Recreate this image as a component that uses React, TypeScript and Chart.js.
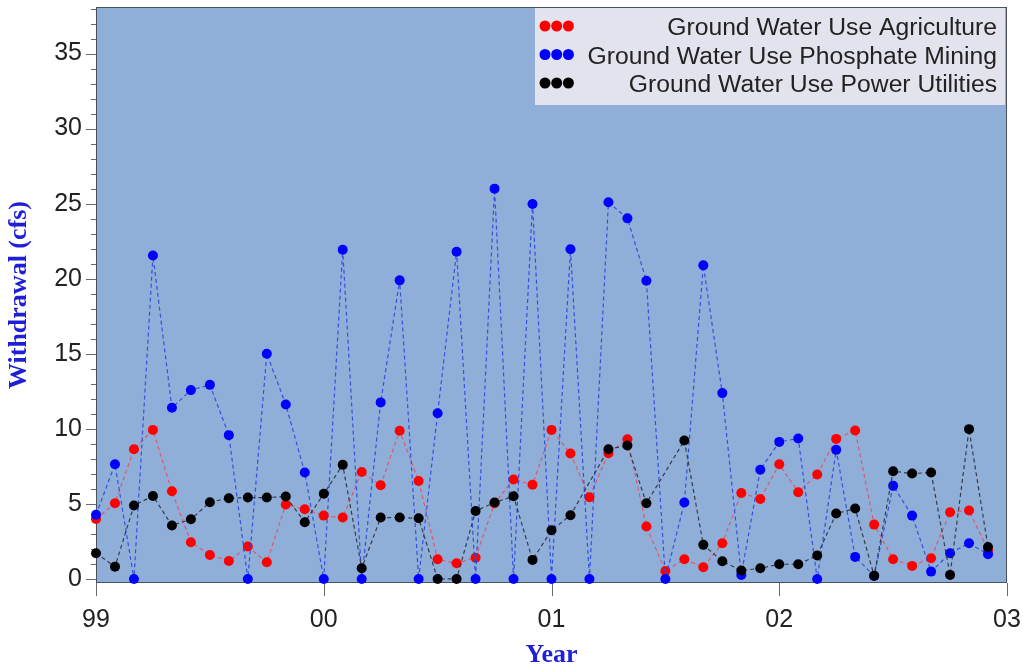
import React, { useEffect, useRef } from "react";
import { Chart, registerables } from "chart.js";

Chart.register(...registerables);

// Two-digit year labels on the monthly axis (one label every 12 months)
const yearLabels = ["99", "00", "01", "02", "03"];

// Monthly ground water withdrawal, cfs, Jan 1999 .. Dec 2002
const agriculture = [
  4.0, 5.04, 8.64, 9.93, 5.84, 2.44, 1.6, 1.2, 2.16, 1.11, 4.96, 4.64,
  4.22, 4.09, 7.13, 6.24, 9.87, 6.53, 1.31, 1.04, 1.42, 5.04, 6.62, 6.27,
  9.93, 8.36, 5.44, 8.38, 9.31, 3.49, 0.53, 1.31, 0.78, 2.38, 5.73, 5.33,
  7.64, 5.78, 6.96, 9.33, 9.89, 3.62, 1.31, 0.87, 1.38, 4.44, 4.56, 1.9,
];

const phosphateMining = [
  4.27, 7.64, 0, 21.55, 11.4, 12.58, 12.93, 9.58, 0, 15.0, 11.62, 7.09,
  0, 21.93, 0, 11.76, 19.89, 0, 11.04, 21.8, 0, 26.0, 0, 24.98,
  0, 21.96, 0, 25.09, 24.02, 19.87, 0, 5.09, 20.89, 12.38, 0.27, 7.27,
  9.13, 9.36, 0, 8.6, 1.47, 0.2, 6.2, 4.22, 0.49, 1.71, 2.38, 1.64,
];

const powerUtilities: (number | null)[] = [
  1.71, 0.82, 4.89, 5.53, 3.56, 3.98, 5.11, 5.38, 5.42, 5.42, 5.49, 3.78,
  5.67, 7.6, 0.71, 4.09, 4.09, 4.04, 0, 0, 4.53, 5.09, 5.51, 1.27,
  3.24, 4.24, null, 8.64, 8.89, 5.04, null, 9.22, 2.27, 1.18, 0.56, 0.71,
  0.98, 0.98, 1.56, 4.36, 4.69, 0.22, 7.18, 7.02, 7.09, 0.27, 9.98, 2.13,
];

const seriesNames = [
  "Ground Water Use Agriculture",
  "Ground Water Use Phosphate Mining",
  "Ground Water Use Power Utilities",
];
const markerColors = ["#ff0000", "#0000ff", "#000000"];
const lineColors = ["rgba(228,80,100,0.9)", "rgba(40,70,225,0.9)", "rgba(45,45,60,0.9)"];

const SANS = '"Liberation Sans", Arial, Helvetica, sans-serif';
const SERIF = '"Liberation Serif", "Times New Roman", Times, serif';
const TITLE_BLUE = "#1f1fd6";

const toPoints = (values: (number | null)[]) => values.map((y, i) => ({ x: i, y }));

// Keep the plot box exactly where the axes put it (no extra room for end labels)
const fixScale = (size: { width?: number; height?: number }) => (s: any) => {
  if (size.width !== undefined) s.width = size.width;
  if (size.height !== undefined) s.height = size.height;
  s.paddingTop = 0;
  s.paddingBottom = 0;
  s.paddingLeft = 0;
  s.paddingRight = 0;
};

// Plot background, frame and the outward tick marks
const plotFrame = {
  id: "plotFrame",
  beforeDraw(chart: any) {
    const { ctx, chartArea: a } = chart;
    ctx.save();
    ctx.fillStyle = "#ffffff";
    ctx.fillRect(0, 0, chart.width, chart.height);
    ctx.fillStyle = "#8fafd9";
    ctx.fillRect(a.left, a.top, a.right - a.left, a.bottom - a.top);
    ctx.restore();
  },
  beforeDatasetsDraw(chart: any) {
    const { ctx, chartArea: a, scales } = chart;
    ctx.save();
    ctx.lineWidth = 1;
    ctx.strokeStyle = "#4a5262";
    ctx.strokeRect(a.left + 0.5, a.top + 0.5, a.right - a.left - 1, a.bottom - a.top - 1);

    ctx.strokeStyle = "#6a6a6a";
    const y = scales.y;
    for (let v = 0; v <= Math.floor(y.max); v++) {
      const py = Math.round(y.getPixelForValue(v)) + 0.5;
      const len = v % 5 === 0 ? 10 : 5;
      ctx.beginPath();
      ctx.moveTo(a.left - len, py);
      ctx.lineTo(a.left, py);
      ctx.stroke();
    }
    const x = scales.x;
    for (let m = x.min; m <= x.max; m += 12) {
      const px = Math.round(x.getPixelForValue(m)) + 0.5;
      ctx.beginPath();
      ctx.moveTo(px, a.bottom);
      ctx.lineTo(px, a.bottom + 13);
      ctx.stroke();
    }
    ctx.restore();
  },
};

// Legend box in the upper right corner of the plot
const cornerLegend = {
  id: "cornerLegend",
  afterDraw(chart: any) {
    const { ctx, chartArea: a } = chart;
    const right = a.right - 2;
    const top = a.top + 1;
    const width = 470;
    const height = 97;
    const left = right - width;
    ctx.save();
    ctx.fillStyle = "#e3e3ee";
    ctx.fillRect(left, top, width, height);
    ctx.font = `24.7px ${SANS}`;
    ctx.textAlign = "right";
    ctx.textBaseline = "alphabetic";
    chart.data.datasets.forEach((ds: any, i: number) => {
      const cy = top + 18 + i * 28.5;
      ctx.fillStyle = ds.pointBackgroundColor;
      for (let k = 0; k < 3; k++) {
        ctx.beginPath();
        ctx.arc(left + 10 + k * 11.7, cy, 5.5, 0, Math.PI * 2);
        ctx.fill();
      }
      ctx.fillStyle = "#222222";
      ctx.fillText(ds.label, right - 8, cy + 9);
    });
    ctx.restore();
  },
};

export default function App() {
  const canvasRef = useRef<HTMLCanvasElement | null>(null);

  useEffect(() => {
    if (!canvasRef.current) return;
    const series = [agriculture, phosphateMining, powerUtilities];
    const chart = new Chart(canvasRef.current, {
      type: "line",
      data: {
        datasets: series.map((values, i) => ({
          label: seriesNames[i],
          data: toPoints(values),
          borderColor: lineColors[i],
          borderWidth: 1.2,
          borderDash: [4, 3],
          pointRadius: 5,
          pointHoverRadius: 5,
          pointBackgroundColor: markerColors[i],
          pointBorderColor: markerColors[i],
          pointBorderWidth: 0,
          tension: 0,
          spanGaps: true,
          clip: false as any,
          order: 3 - i,
        })),
      },
      options: {
        animation: false,
        responsive: false,
        devicePixelRatio: 1,
        layout: { padding: { left: 0, right: 16, top: 7, bottom: 0 } },
        plugins: {
          legend: { display: false },
          tooltip: { enabled: false },
        },
        scales: {
          x: {
            type: "linear",
            min: 0,
            max: 48,
            grid: { display: false, drawTicks: false },
            border: { display: false },
            ticks: {
              stepSize: 12,
              autoSkip: false,
              maxRotation: 0,
              padding: 22,
              color: "#222222",
              font: { family: SANS, size: 25 },
              callback: (v: any) => yearLabels[Math.round(Number(v) / 12)] ?? "",
            },
            title: {
              display: true,
              text: "Year",
              color: TITLE_BLUE,
              font: { family: SERIF, size: 26, weight: "bold" },
              padding: { top: 0, bottom: 0 },
            },
            afterFit: fixScale({ height: 88 }),
          },
          y: {
            type: "linear",
            min: -0.27,
            max: 38.1,
            grid: { display: false, drawTicks: false },
            border: { display: false },
            ticks: {
              stepSize: 5,
              includeBounds: false,
              padding: 14,
              color: "#222222",
              font: { family: SANS, size: 25 },
            },
            title: {
              display: true,
              text: "Withdrawal (cfs)",
              color: TITLE_BLUE,
              font: { family: SERIF, size: 26, weight: "bold" },
              padding: { top: 4, bottom: 0 },
            },
            afterFit: fixScale({ width: 96 }),
          },
        },
      },
      plugins: [plotFrame, cornerLegend],
    } as any);
    return () => chart.destroy();
  }, []);

  return (
    <div style={{ position: "fixed", left: 0, top: 0, width: 1023, height: 671, background: "#fff" }}>
      <canvas ref={canvasRef} width={1023} height={671} />
    </div>
  );
}
